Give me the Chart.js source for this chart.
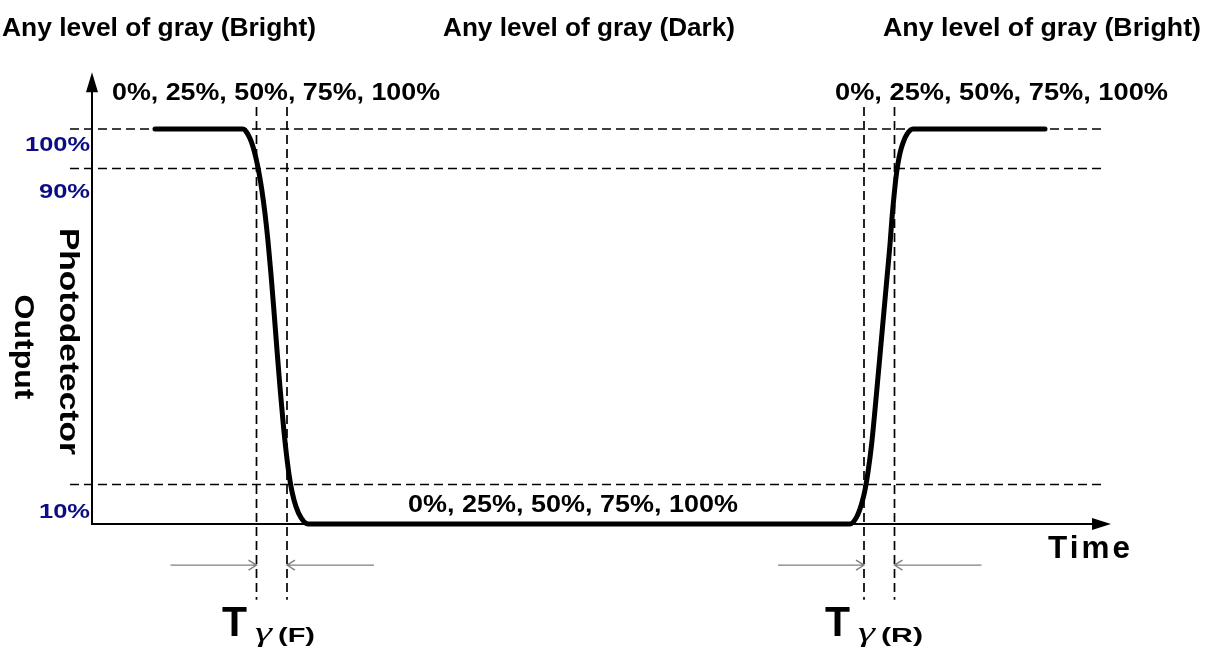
<!DOCTYPE html>
<html>
<head>
<meta charset="utf-8">
<script src="https://cdn.jsdelivr.net/npm/chart.js@4.4.1/dist/chart.umd.min.js"></script>
<style>
html,body{margin:0;padding:0;background:#fff;overflow:hidden}
#wrap{width:1207px;height:648px;position:relative}
</style>
</head>
<body>
<div id="wrap"><canvas id="c"></canvas></div>
<script>
// ---- data (time in arbitrary units, output in % of full scale) ----
const timeValues   = [63, 151, 154, 158, 161, 164, 167, 170, 173, 176, 179, 182, 185, 188, 191, 194, 197, 200, 204, 209, 216,
                      758, 764.7, 769.7, 773, 776.3, 779.7, 783, 786, 789, 792, 795, 798, 800, 802, 804, 806, 808, 811, 815, 821, 953];
const outputValues = [100, 100, 99.4, 97.6, 95.5, 92.6, 88.9, 84.3, 78.6, 71.6, 63.2, 53.8, 44.0, 34.6, 26.0, 18.6, 12.6, 8.2, 4.4, 1.6, 0,
                      0, 1.8, 5.2, 8.6, 13.7, 20.4, 28.9, 37.2, 45.6, 54.0, 62.4, 70.8, 77.5, 83.0, 87.8, 91.3, 93.9, 96.5, 98.7, 100, 100];
const refLevels = [100, 90, 10];
const refLevelLabels = ['100%', '90%', '10%'];
const markerTimes = [164.5, 195, 772, 802.5];   // 90%/10% crossings of fall (F) and rise (R)
const regionTitles = ['Any level of gray (Bright)', 'Any level of gray (Dark)', 'Any level of gray (Bright)'];
const grayLevelsText = '0%, 25%, 50%, 75%, 100%';
const responseLabels = ['(F)', '(R)'];
const xAxisTitle = 'Time';
const yAxisTitle = ['Photodetector', 'Output'];

// ---- geometry of the drawing (styles / extents, not data) ----
const X_MIN = -92, X_MAX = 1115, Y_MIN = -31.39, Y_MAX = 132.66;
const H_LINE_FROM = -22, H_LINE_TO = 1013;
const V_LINE_TOP = 105.6, V_LINE_BOTTOM = -19.2;
const DASH = [9, 5];

const curve = timeValues.map((t, i) => ({x: t, y: outputValues[i]}));

const datasets = [{
  label: 'Photodetector output',
  data: curve,
  borderColor: '#000',
  borderWidth: 5,
  pointRadius: 0,
  cubicInterpolationMode: 'monotone',
  borderCapStyle: 'round',
  borderJoinStyle: 'round',
  fill: false,
  order: 0
}];
refLevels.forEach(l => datasets.push({
  label: 'level ' + l,
  data: [{x: H_LINE_FROM, y: l}, {x: H_LINE_TO, y: l}],
  borderColor: '#000', borderWidth: 1.7, borderDash: DASH,
  pointRadius: 0, fill: false, order: 2
}));
markerTimes.forEach(t => datasets.push({
  label: 'marker ' + t,
  data: [{x: t, y: V_LINE_TOP}, {x: t, y: V_LINE_BOTTOM}],
  borderColor: '#000', borderWidth: 1.7, borderDash: DASH,
  pointRadius: 0, fill: false, order: 2
}));

// draw text; if width is given, the text is stretched horizontally to that width
function txt(ctx, s, x, y, font, o) {
  o = o || {};
  ctx.save();
  ctx.font = font;
  ctx.fillStyle = o.color || '#000';
  ctx.textBaseline = 'alphabetic';
  if ('letterSpacing' in ctx) ctx.letterSpacing = (o.ls || 0) + 'px';
  ctx.textAlign = 'left';
  const nat = ctx.measureText(s).width;
  const w = o.width || nat;
  const sx = w / nat;
  ctx.translate(x, y);
  if (o.rotate) ctx.rotate(o.rotate);
  let startX = 0;
  if (o.align === 'right') startX = -w;
  else if (o.align === 'center') startX = -w / 2;
  ctx.translate(startX, 0);
  ctx.scale(sx, 1);
  ctx.fillText(s, 0, 0);
  ctx.restore();
}

const diagram = {
  id: 'diagram',
  beforeDatasetsDraw(chart) {
    const ctx = chart.ctx, xs = chart.scales.x, ys = chart.scales.y;
    const x0 = xs.getPixelForValue(0), y0 = ys.getPixelForValue(0);
    const yTip = ys.getPixelForValue(114.4), xTip = xs.getPixelForValue(1019);
    ctx.save();
    ctx.strokeStyle = '#000'; ctx.fillStyle = '#000'; ctx.lineWidth = 2;
    // y axis
    ctx.beginPath(); ctx.moveTo(x0, y0 + 1); ctx.lineTo(x0, yTip + 10); ctx.stroke();
    ctx.beginPath(); ctx.moveTo(x0, yTip); ctx.lineTo(x0 - 6, yTip + 20); ctx.lineTo(x0 + 6, yTip + 20); ctx.closePath(); ctx.fill();
    // x axis
    ctx.beginPath(); ctx.moveTo(x0 - 1, y0); ctx.lineTo(xTip - 10, y0); ctx.stroke();
    ctx.beginPath(); ctx.moveTo(xTip, y0); ctx.lineTo(xTip - 19, y0 - 6); ctx.lineTo(xTip - 19, y0 + 6); ctx.closePath(); ctx.fill();
    ctx.restore();
  },
  afterDatasetsDraw(chart) {
    const ctx = chart.ctx, xs = chart.scales.x, ys = chart.scales.y;
    const F = '"Liberation Sans", Arial, Helvetica, sans-serif';
    // thin gray dimension arrows toward the marker lines
    const ay = ys.getPixelForValue(-10.4);
    ctx.save();
    ctx.strokeStyle = '#808080'; ctx.lineWidth = 1.4;
    for (let i = 0; i < markerTimes.length; i += 2) {
      const a = xs.getPixelForValue(markerTimes[i]), b = xs.getPixelForValue(markerTimes[i + 1]);
      const aFrom = xs.getPixelForValue(markerTimes[i] - 86), bTo = xs.getPixelForValue(markerTimes[i + 1] + 87);
      ctx.beginPath(); ctx.moveTo(aFrom, ay); ctx.lineTo(a, ay);
      ctx.moveTo(a - 8, ay - 5); ctx.lineTo(a, ay); ctx.lineTo(a - 8, ay + 5); ctx.stroke();
      ctx.beginPath(); ctx.moveTo(bTo, ay); ctx.lineTo(b, ay);
      ctx.moveTo(b + 8, ay - 5); ctx.lineTo(b, ay); ctx.lineTo(b + 8, ay + 5); ctx.stroke();
    }
    ctx.restore();

    // region titles
    txt(ctx, regionTitles[0], 2, 36, 'bold 26px ' + F, {width: 314});
    txt(ctx, regionTitles[1], 443, 36, 'bold 26px ' + F, {width: 292});
    txt(ctx, regionTitles[2], 1201, 36, 'bold 26px ' + F, {align: 'right', width: 318});
    // gray level strings
    txt(ctx, grayLevelsText, 112, 100, 'bold 23px ' + F, {width: 328});
    txt(ctx, grayLevelsText, 835, 100, 'bold 23px ' + F, {width: 333});
    txt(ctx, grayLevelsText, 408, 512, 'bold 23px ' + F, {width: 330});
    // y-level labels
    const offs = [22, 29, 33];
    const widths = [65, 51, 51];
    refLevels.forEach((l, i) => {
      txt(ctx, refLevelLabels[i], 90, ys.getPixelForValue(l) + offs[i], 'bold 21px ' + F,
          {color: '#0c0c86', align: 'right', width: widths[i]});
    });
    // axis titles
    txt(ctx, yAxisTitle[0], 60, 341.5, 'bold 28px ' + F, {align: 'center', rotate: Math.PI / 2, width: 227});
    txt(ctx, yAxisTitle[1], 15, 347, 'bold 28px ' + F, {align: 'center', rotate: Math.PI / 2, width: 105});
    txt(ctx, xAxisTitle, 1048, 558, 'bold 31px ' + F, {ls: 3, width: 85});
    // response time labels
    const tx = [222, 825];
    tx.forEach((x, i) => {
      txt(ctx, 'T', x, 636, 'bold 42px ' + F, {width: 25});
      txt(ctx, 'γ', x + 33, 641, 'italic 28px "Liberation Serif", "DejaVu Serif", serif', {width: 17});
      txt(ctx, responseLabels[i], x + 56, 642, 'bold 21px ' + F, {width: i === 0 ? 37 : 42});
    });
  }
};

new Chart(document.getElementById('c'), {
  type: 'line',
  data: {datasets},
  options: {
    responsive: true,
    maintainAspectRatio: false,
    animation: false,
    events: [],
    layout: {padding: 0},
    plugins: {legend: {display: false}, tooltip: {enabled: false}, title: {display: false}},
    scales: {
      x: {type: 'linear', min: X_MIN, max: X_MAX, display: false},
      y: {type: 'linear', min: Y_MIN, max: Y_MAX, display: false}
    }
  },
  plugins: [diagram]
});
</script>
</body>
</html>
